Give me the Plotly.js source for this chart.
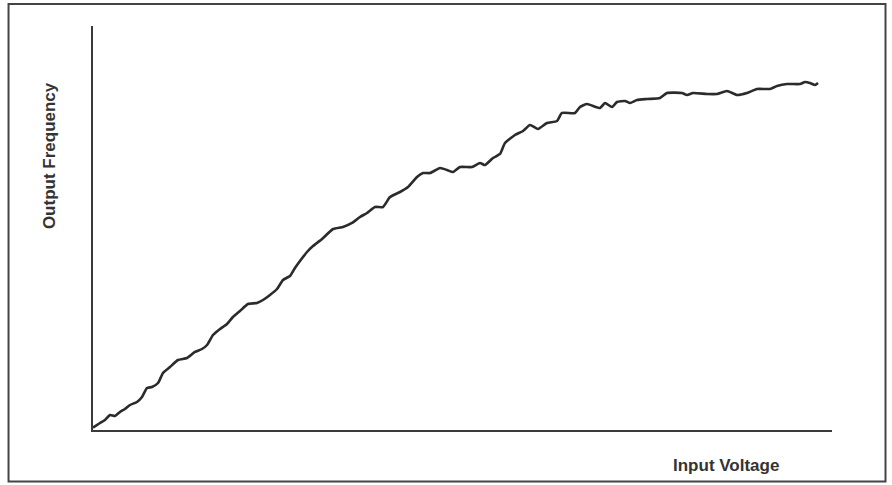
<!DOCTYPE html>
<html>
<head>
<meta charset="utf-8">
<script src="https://cdn.plot.ly/plotly-3.0.1.min.js"></script>
<style>
  html, body { margin: 0; padding: 0; background: #ffffff; }
  #chart { width: 892px; height: 485px; }
</style>
</head>
<body>
<div id="chart"></div>
<script>
// Input voltage (arbitrary units, 0-100 across the axis)
const inputVoltage = [
  0.0, 0.95, 1.62, 2.30, 2.98, 3.65, 4.33, 5.01, 5.95, 6.63,
  7.31, 7.98, 8.80, 9.47, 10.42, 11.50, 12.72, 13.80, 14.75, 15.43,
  16.24, 17.19, 18.13, 18.94, 19.89, 20.97, 22.19, 23.00, 23.95, 24.90,
  25.71, 26.66, 27.33, 28.01, 28.96, 29.77, 30.99, 32.48, 33.83, 35.05,
  36.13, 37.08, 38.16, 39.24, 40.19, 41.54, 42.63, 43.84, 44.65, 45.60,
  46.96, 47.90, 48.71, 49.66, 51.29, 52.37, 53.04, 54.13, 55.07, 55.75,
  57.10, 58.19, 59.13, 60.22, 61.43, 62.79, 63.46, 65.22, 65.90, 66.85,
  68.61, 69.28, 70.23, 70.91, 71.99, 72.67, 73.61, 74.97, 76.73, 77.67,
  79.70, 80.38, 81.19, 83.09, 84.44, 85.79, 87.14, 88.50, 89.85, 91.61,
  92.56, 93.91, 95.67, 96.35, 97.02, 97.70, 98.11
];
// Output frequency (arbitrary units, 0-100 up the axis)
const outputFrequency = [
  0.6, 1.73, 2.48, 3.71, 3.47, 4.46, 5.20, 6.19, 6.93, 8.17,
  10.40, 10.64, 11.63, 14.11, 15.59, 17.33, 17.82, 19.31, 20.05, 21.04,
  23.51, 25.00, 26.24, 27.97, 29.46, 31.19, 31.44, 32.18, 33.42, 34.90,
  37.13, 38.12, 40.10, 41.83, 44.06, 45.54, 47.28, 49.75, 50.25, 51.24,
  52.72, 53.71, 55.20, 55.20, 57.67, 58.91, 60.15, 62.62, 63.61, 63.61,
  64.85, 64.36, 63.86, 65.10, 65.10, 66.09, 65.59, 67.33, 68.32, 71.04,
  73.02, 74.01, 75.50, 74.50, 75.99, 76.49, 78.47, 78.47, 79.95, 80.69,
  79.70, 80.94, 79.95, 81.19, 81.44, 80.94, 81.68, 81.93, 82.18, 83.42,
  83.42, 82.92, 83.42, 83.17, 83.17, 83.91, 82.92, 83.42, 84.41, 84.41,
  85.15, 85.64, 85.64, 86.14, 85.89, 85.40, 85.89
];
const xTitle = "Input Voltage";
const yTitle = "Output Frequency";

const titleFont = {
  family: '"Liberation Sans Narrow", "Arial Narrow", "Liberation Sans", Arial, sans-serif',
  size: 17, color: '#333333', weight: 'bold'
};

const trace = {
  x: inputVoltage,
  y: outputFrequency,
  type: 'scatter',
  mode: 'lines',
  line: { color: '#2b2b2b', width: 2.6, shape: 'spline', smoothing: 0.5 },
  hoverinfo: 'skip'
};

const axisCommon = {
  showgrid: false, zeroline: false, showticklabels: false, ticks: '',
  showline: true, linecolor: '#3a3a3a', linewidth: 2, fixedrange: true
};

const layout = {
  width: 892, height: 485,
  margin: { l: 93, r: 60, t: 26, b: 55 },
  paper_bgcolor: '#ffffff', plot_bgcolor: '#ffffff',
  showlegend: false,
  xaxis: Object.assign({ range: [0, 100] }, axisCommon),
  yaxis: Object.assign({ range: [0, 100] }, axisCommon),
  annotations: [
    { text: '<b>' + yTitle + '</b>', xref: 'paper', yref: 'paper', x: -0.0595, y: 0.678,
      xanchor: 'center', yanchor: 'middle', textangle: -90, showarrow: false, font: titleFont },
    { text: '<b>' + xTitle + '</b>', xref: 'paper', yref: 'paper', x: 0.857, y: -0.087,
      xanchor: 'center', yanchor: 'middle', showarrow: false, font: titleFont }
  ],
  shapes: [
    { type: 'rect', xref: 'paper', yref: 'paper', x0: -0.1143, x1: 1.0724, y0: -0.1275, y1: 1.0545,
      line: { color: '#444444', width: 2 }, fillcolor: 'rgba(0,0,0,0)', layer: 'below' }
  ]
};

Plotly.newPlot('chart', [trace], layout, { staticPlot: true, displayModeBar: false });
</script>
</body>
</html>
